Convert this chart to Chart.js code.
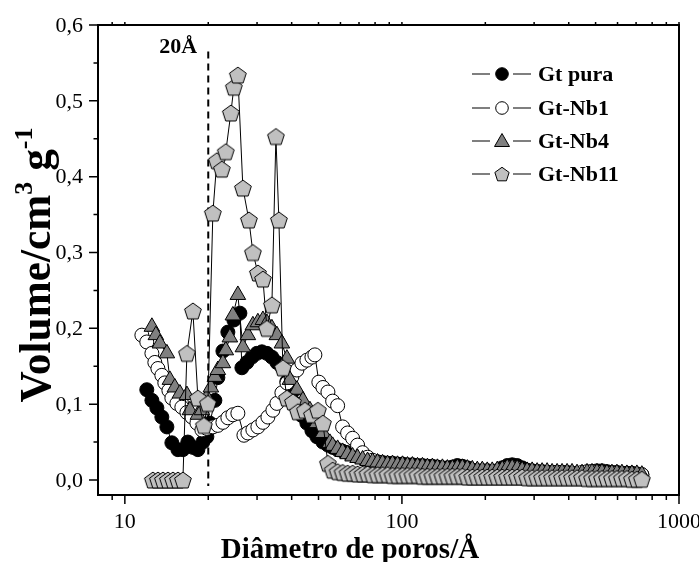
<!DOCTYPE html>
<html><head><meta charset="utf-8">
<script src="https://cdn.jsdelivr.net/npm/chart.js@4.4.0/dist/chart.umd.min.js"></script>
<style>html,body{margin:0;padding:0;background:#fff;}</style>
</head><body>
<canvas id="c" width="699" height="562"></canvas>
<script>
// ---------- DATA ----------
const seriesNames = ["Gt pura", "Gt-Nb1", "Gt-Nb4", "Gt-Nb11"];

const puraHeadX = [12.00,12.52,13.05,13.60,14.18,14.78,15.54,16.20,16.88,17.60,18.35,19.12,19.77,20.27,21.13,21.66,22.59,23.54,24.74,26.01,26.45,27.57,28.74,29.96,31.23,32.56,33.94,35.38,36.88,38.45,40.08,41.78,43.55,45.40,47.33,49.33,51.86,54.07];
const puraHeadY = [0.119,0.105,0.095,0.083,0.070,0.049,0.040,0.040,0.050,0.043,0.040,0.050,0.057,0.075,0.105,0.135,0.170,0.195,0.211,0.220,0.148,0.155,0.162,0.167,0.169,0.167,0.162,0.155,0.149,0.130,0.115,0.100,0.085,0.075,0.065,0.057,0.050,0.046];

const nb1HeadX = [11.52,12.00,12.52,12.83,13.16,13.60,13.94,14.42,14.78,15.41,16.06,16.75,17.46,18.20,18.97,19.77,20.78,21.66,22.59,23.54,24.54,25.58,26.90,27.80,28.98,30.21,31.50,32.83,34.22,35.38,36.88,38.45,40.08,41.78,43.55,45.40,47.33,48.51,50.14,51.86,54.07];
const nb1HeadY = [0.191,0.182,0.167,0.155,0.147,0.138,0.128,0.118,0.108,0.101,0.096,0.089,0.083,0.075,0.066,0.068,0.070,0.072,0.076,0.082,0.086,0.088,0.059,0.062,0.066,0.070,0.076,0.083,0.092,0.101,0.115,0.128,0.136,0.145,0.154,0.158,0.162,0.165,0.129,0.122,0.116];

const nb4HeadX = [12.52,12.94,13.38,14.18,14.54,15.15,15.80,16.75,17.17,18.35,18.97,19.77,20.44,21.13,21.66,22.59,23.14,23.93,24.54,25.58,26.67,27.80,28.98,30.21,31.50,32.56,33.94,35.38,36.88,38.45,39.42,41.78,43.92,46.55,49.33,51.86,54.96];
const nb4HeadY = [0.202,0.191,0.180,0.167,0.132,0.122,0.114,0.112,0.092,0.086,0.092,0.109,0.122,0.136,0.145,0.154,0.171,0.188,0.217,0.244,0.175,0.191,0.204,0.208,0.211,0.207,0.200,0.191,0.180,0.160,0.132,0.119,0.105,0.092,0.075,0.062,0.049];

const nb11HeadX = [12.62,13.16,13.72,14.30,14.91,15.54,16.20,16.75,17.60,18.35,19.28,19.94,20.78,21.48,22.39,23.14,24.13,24.74,25.58,26.67,28.03,28.98,30.21,31.50,32.56,33.94,35.09,35.97,37.19,38.45,40.41,42.13,44.65,47.33,49.75,51.86,54.07];
const nb11HeadY = [0,0,0,0,0,0,0,0.167,0.223,0.108,0.072,0.101,0.352,0.421,0.410,0.433,0.484,0.518,0.534,0.385,0.343,0.300,0.273,0.265,0.200,0.231,0.453,0.343,0.148,0.108,0.103,0.090,0.092,0.086,0.092,0.075,0.022];

// shared diameters (Å) of the long tail, 56 – 735 Å
const tailX = [56.23,58.61,61.09,63.68,66.37,69.18,72.11,75.16,78.34,81.66,85.11,88.72,92.47,96.38,100.5,104.7,109.1,113.8,118.6,123.6,128.8,134.3,140.0,145.9,152.1,158.5,165.2,172.2,179.5,187.1,195.0,203.2,211.8,220.8,230.1,239.9,250.0,260.6,271.6,283.1,295.1,307.6,320.6,334.2,348.3,363.1,378.4,394.5,411.1,428.5,446.7,465.6,485.3,505.8,527.2,549.5,572.8,597.0,622.3,648.6,676.1,704.7,734.5];
const puraTailY = [0.043,0.040,0.038,0.036,0.034,0.032,0.029,0.027,0.025,0.024,0.023,0.022,0.022,0.021,0.021,0.020,0.020,0.019,0.019,0.018,0.018,0.017,0.016,0.016,0.017,0.019,0.018,0.016,0.013,0.012,0.012,0.012,0.011,0.012,0.016,0.019,0.020,0.019,0.016,0.013,0.012,0.011,0.011,0.010,0.010,0.010,0.010,0.010,0.009,0.009,0.009,0.010,0.011,0.012,0.012,0.011,0.010,0.010,0.009,0.009,0.009,0.008,0.007];
const nb1TailY = [0.104,0.098,0.070,0.062,0.055,0.046,0.036,0.030,0.026,0.023,0.021,0.019,0.018,0.018,0.017,0.017,0.016,0.016,0.016,0.015,0.015,0.015,0.014,0.014,0.014,0.015,0.015,0.014,0.013,0.012,0.012,0.012,0.011,0.012,0.013,0.015,0.016,0.015,0.013,0.012,0.011,0.011,0.010,0.010,0.010,0.010,0.010,0.009,0.009,0.009,0.010,0.011,0.011,0.010,0.010,0.009,0.009,0.009,0.008,0.008,0.008,0.007,0.007];
const nb4TailY = [0.045,0.041,0.037,0.034,0.031,0.029,0.027,0.025,0.024,0.023,0.022,0.021,0.021,0.020,0.020,0.019,0.019,0.018,0.018,0.017,0.017,0.016,0.016,0.015,0.015,0.016,0.016,0.015,0.014,0.013,0.013,0.012,0.012,0.013,0.014,0.016,0.016,0.015,0.013,0.012,0.012,0.011,0.011,0.011,0.010,0.010,0.010,0.010,0.010,0.009,0.009,0.010,0.010,0.010,0.010,0.009,0.009,0.009,0.009,0.008,0.008,0.008,0.007];
const nb11TailY = [0.013,0.011,0.010,0.009,0.009,0.008,0.008,0.008,0.007,0.007,0.007,0.007,0.006,0.006,0.006,0.006,0.006,0.006,0.005,0.005,0.005,0.005,0.005,0.005,0.005,0.005,0.005,0.004,0.004,0.004,0.004,0.004,0.004,0.004,0.004,0.004,0.004,0.004,0.004,0.003,0.003,0.003,0.003,0.003,0.003,0.003,0.003,0.003,0.003,0.003,0.003,0.002,0.002,0.002,0.002,0.002,0.002,0.002,0.002,0.002,0.001,0.001,0.001];

const xTickValues = [10, 100, 1000];
const yTickValues = [0, 0.1, 0.2, 0.3, 0.4, 0.5, 0.6];
const marker20 = 20;

// ---------- helpers ----------
const FONT = "'Liberation Serif','Times New Roman',serif";
function pts(hx, hy, tx, ty) {
  const a = hx.map((x, i) => ({x, y: hy[i]}));
  const b = tx.map((x, i) => ({x, y: ty[i]}));
  return a.concat(b);
}
function pentagonPath(g, cx, cy, r) {
  g.beginPath();
  for (let k = 0; k < 5; k++) {
    const a = -Math.PI / 2 + k * 2 * Math.PI / 5;
    const px = cx + r * Math.cos(a), py = cy + r * Math.sin(a);
    if (k) g.lineTo(px, py); else g.moveTo(px, py);
  }
  g.closePath();
}
function makePent(size, r) {
  const c = document.createElement('canvas');
  c.width = size; c.height = size;
  const g = c.getContext('2d');
  pentagonPath(g, size / 2, size / 2 + r * 0.1, r);
  g.fillStyle = '#c0c0c0'; g.fill();
  g.strokeStyle = '#000'; g.lineWidth = 1; g.stroke();
  return c;
}
const pentImg = makePent(20, 8.8);
const pentImgSmall = makePent(18, 7.5);

const LEFT = 98, RIGHT_PAD = 20, TOP = 25, BOTTOM = 495, W = 699, H = 562;

const decor = {
  id: 'decor',
  afterDraw(chart) {
    const ctx = chart.ctx;
    const xs = chart.scales.x, ys = chart.scales.y;
    const a = chart.chartArea;
    ctx.save();
    ctx.strokeStyle = '#000';
    ctx.fillStyle = '#000';
    // frame
    ctx.lineWidth = 2;
    ctx.strokeRect(a.left, a.top, a.right - a.left, a.bottom - a.top);
    // y ticks
    ctx.lineWidth = 1.5;
    ctx.beginPath();
    yTickValues.forEach(v => { const p = ys.getPixelForValue(v); ctx.moveTo(a.left - 9, p); ctx.lineTo(a.left, p); });
    for (let i = 0; i < 6; i++) { const p = ys.getPixelForValue(yTickValues[i] + 0.05); ctx.moveTo(a.left - 4.5, p); ctx.lineTo(a.left, p); }
    // x ticks
    const minors = [9, 20, 30, 40, 50, 60, 70, 80, 90, 200, 300, 400, 500, 600, 700, 800, 900];
    xTickValues.forEach(v => { const p = xs.getPixelForValue(v); ctx.moveTo(p, a.bottom); ctx.lineTo(p, a.bottom + 9); ctx.moveTo(p, a.top); ctx.lineTo(p, a.top - 3); });
    minors.forEach(v => { const p = xs.getPixelForValue(v); ctx.moveTo(p, a.bottom); ctx.lineTo(p, a.bottom + 5); ctx.moveTo(p, a.top); ctx.lineTo(p, a.top - 3); });
    ctx.stroke();
    // tick labels
    ctx.font = "22px " + FONT;
    ctx.textAlign = 'right'; ctx.textBaseline = 'middle';
    yTickValues.forEach(v => ctx.fillText(v.toFixed(1).replace('.', ','), 83, ys.getPixelForValue(v) + 1));
    ctx.textAlign = 'center';
    xTickValues.forEach(v => ctx.fillText(String(v), xs.getPixelForValue(v), 522));
    // x title
    ctx.font = "bold 29px " + FONT;
    ctx.textBaseline = 'alphabetic';
    ctx.fillText("Diâmetro de poros/Å", 350, 558);
    // y title with superscripts, scaled to span ~275 px
    ctx.save();
    ctx.translate(50, 265);
    ctx.rotate(-Math.PI / 2);
    const base = 30;
    const parts = [["Volume/cm", 1, 0], ["3", 0.6, -0.42], [" g", 1, 0], ["-1", 0.6, -0.42]];
    const measure = fs => parts.reduce((s, p) => { ctx.font = "bold " + (fs * p[1]) + "px " + FONT; return s + ctx.measureText(p[0]).width; }, 0);
    const fs = base * 275 / measure(base);
    let total = measure(fs);
    let x = -total / 2;
    ctx.textAlign = 'left';
    parts.forEach(p => { ctx.font = "bold " + (fs * p[1]) + "px " + FONT; ctx.fillText(p[0], x, p[2] * fs); x += ctx.measureText(p[0]).width; });
    ctx.restore();
    // 20Å label
    ctx.font = "bold 22px " + FONT;
    ctx.textAlign = 'right'; ctx.textBaseline = 'middle';
    ctx.fillText("20Å", xs.getPixelForValue(marker20) - 11, 47);
    // legend
    const rows = [74, 108, 141, 174];
    const styles = ['black', 'open', 'tri', 'pent'];
    ctx.textAlign = 'left';
    rows.forEach((y, i) => {
      ctx.lineWidth = 1.2;
      ctx.beginPath();
      ctx.moveTo(472, y); ctx.lineTo(490, y);
      ctx.moveTo(513, y); ctx.lineTo(531, y);
      ctx.stroke();
      ctx.lineWidth = 1;
      const s = styles[i];
      if (s === 'black' || s === 'open') {
        ctx.beginPath(); ctx.arc(502, y, 6.3, 0, Math.PI * 2);
        ctx.fillStyle = s === 'black' ? '#000' : '#fff'; ctx.fill(); ctx.stroke();
      } else if (s === 'tri') {
        ctx.beginPath();
        ctx.moveTo(502, y - 7.5); ctx.lineTo(509.5, y + 5.5); ctx.lineTo(494.5, y + 5.5); ctx.closePath();
        ctx.fillStyle = '#808080'; ctx.fill(); ctx.stroke();
      } else {
        ctx.drawImage(pentImgSmall, 502 - 9, y - 9);
      }
      ctx.fillStyle = '#000';
      ctx.font = "bold 22px " + FONT;
      ctx.fillText(seriesNames[i], 538, y + 1);
    });
    ctx.restore();
  }
};

const common = { showLine: true, borderColor: '#000', borderWidth: 1, pointBorderColor: '#000', pointBorderWidth: 1 };

new Chart(document.getElementById('c'), {
  type: 'scatter',
  data: {
    datasets: [
      Object.assign({ label: seriesNames[0], data: pts(puraHeadX, puraHeadY, tailX, puraTailY), pointStyle: 'circle', pointRadius: 7, pointHoverRadius: 7, pointBackgroundColor: '#000', order: 3 }, common),
      Object.assign({ label: seriesNames[1], data: pts(nb1HeadX, nb1HeadY, tailX, nb1TailY), pointStyle: 'circle', pointRadius: 7, pointHoverRadius: 7, pointBackgroundColor: '#fff', order: 2 }, common),
      Object.assign({ label: seriesNames[2], data: pts(nb4HeadX, nb4HeadY, tailX, nb4TailY), pointStyle: 'triangle', pointRadius: 9, pointHoverRadius: 9, pointBackgroundColor: '#808080', order: 1 }, common),
      Object.assign({ label: seriesNames[3], data: pts(nb11HeadX, nb11HeadY, tailX, nb11TailY), pointStyle: pentImg, pointRadius: 9, pointHoverRadius: 9, pointBackgroundColor: '#c0c0c0', order: 0 }, common),
      { label: '20Å', data: [{x: marker20, y: 0.565}, {x: marker20, y: -0.008}], showLine: true, borderColor: '#000', borderWidth: 2, borderDash: [7, 5], pointRadius: 0, order: 5 }
    ]
  },
  options: {
    responsive: false,
    animation: false,
    devicePixelRatio: 1,
    layout: { padding: { top: TOP, right: RIGHT_PAD, left: 0, bottom: 0 } },
    plugins: { legend: { display: false }, tooltip: { enabled: false } },
    scales: {
      x: {
        type: 'logarithmic', min: 8, max: 1000,
        grid: { display: false }, border: { display: false },
        ticks: { display: false },
        afterFit(s) { s.height = H - BOTTOM; }
      },
      y: {
        type: 'linear', min: -0.0198, max: 0.6,
        grid: { display: false }, border: { display: false },
        ticks: { display: false },
        afterFit(s) { s.width = LEFT; }
      }
    }
  },
  plugins: [decor]
});
</script>
</body></html>
